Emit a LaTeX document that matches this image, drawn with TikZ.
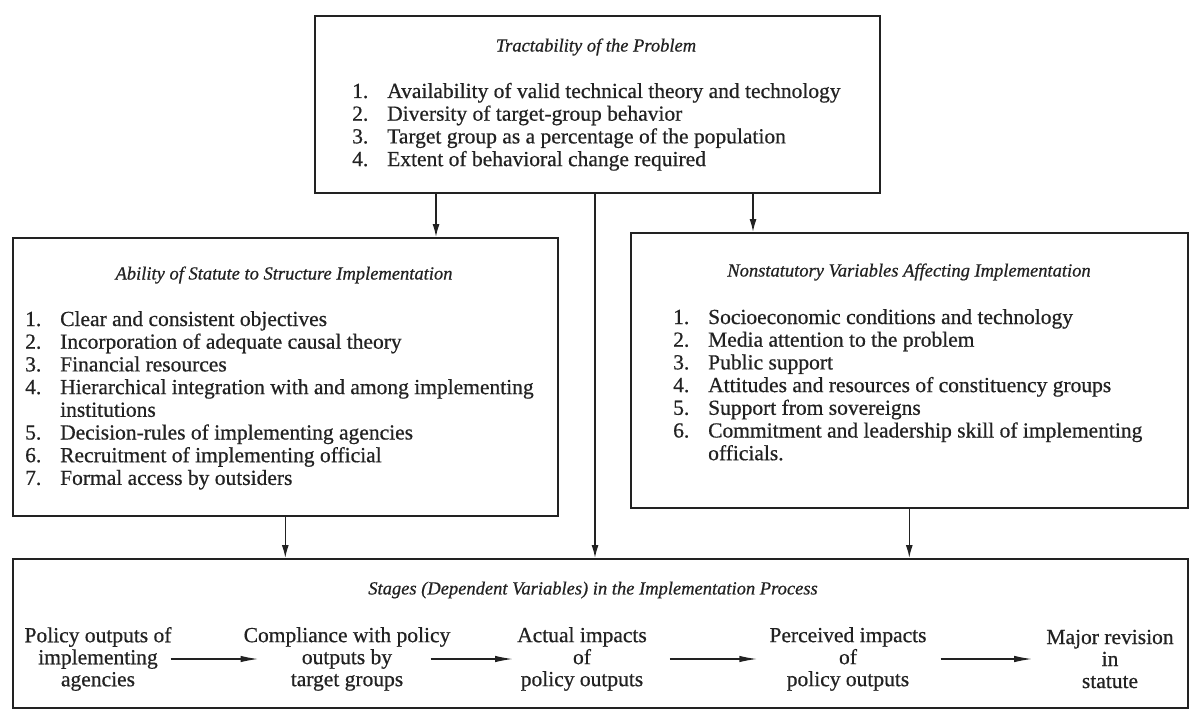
\documentclass[tikz,border=0pt]{standalone}
\usepackage{fontspec}
\setmainfont{Liberation Serif}[FakeBold=0.6]
\newfontfamily\heavyserif{Liberation Serif}[FakeBold=0.6]
\usetikzlibrary{arrows.meta}
\definecolor{ink}{HTML}{222222}
\begin{document}
\begin{tikzpicture}[x=1pt,y=-1pt,
  box/.style={draw=ink, line width=1.6pt, inner sep=0pt, anchor=north west},
  ttl/.style={font=\heavyserif\fontsize{18.5}{22}\selectfont\itshape, text=ink, inner sep=0pt, anchor=center},
  lst/.style={font=\heavyserif\fontsize{21.5}{22.7}\selectfont, text=ink, inner sep=0pt, anchor=base west},
  stg/.style={font=\heavyserif\fontsize{21.5}{22}\selectfont, text=ink, inner sep=0pt, align=center, anchor=center},
  arr/.style={draw=ink, line width=1.5pt, -{Latex[length=13pt,width=7pt]}},
  sarr/.style={draw=ink, line width=1.4pt, -{Latex[length=18pt,width=6.5pt]}}]
\useasboundingbox (0,0) rectangle (1189,709);
\fill[white] (0,0) rectangle (1189,709);
\newcommand{\nm}[1]{\makebox[35pt][l]{#1}}
% boxes
\node[box, minimum width=565pt, minimum height=177pt] (top) at (314,15) {};
\node[box, minimum width=545pt, minimum height=278pt] (lbox) at (12,237) {};
\node[box, minimum width=557pt, minimum height=275pt] (rbox) at (630,232) {};
\node[box, minimum width=1175pt, minimum height=149pt] (bot) at (12,558) {};
% top box text
\node[ttl] (ttop) at (596,47) {Tractability of the Problem};
\node[lst] (ltop) at (352,98) {\begin{tabular}[t]{@{}l@{}l@{}}
\nm{1.}&Availability of valid technical theory and technology\\
\nm{2.}&Diversity of target-group behavior\\
\nm{3.}&Target group as a percentage of the population\\
\nm{4.}&Extent of behavioral change required
\end{tabular}};
% left box text
\node[ttl] (tleft) at (284,275) {Ability of Statute to Structure Implementation};
\node[lst] (lleft) at (25,326) {\begin{tabular}[t]{@{}l@{}l@{}}
\nm{1.}&Clear and consistent objectives\\
\nm{2.}&Incorporation of adequate causal theory\\
\nm{3.}&Financial resources\\
\nm{4.}&Hierarchical integration with and among implementing\\
&institutions\\
\nm{5.}&Decision-rules of implementing agencies\\
\nm{6.}&Recruitment of implementing official\\
\nm{7.}&Formal access by outsiders
\end{tabular}};
% right box text
\node[ttl] (tright) at (909,272) {Nonstatutory Variables Affecting Implementation};
\node[lst] (lright) at (673,324) {\begin{tabular}[t]{@{}l@{}l@{}}
\nm{1.}&Socioeconomic conditions and technology\\
\nm{2.}&Media attention to the problem\\
\nm{3.}&Public support\\
\nm{4.}&Attitudes and resources of constituency groups\\
\nm{5.}&Support from sovereigns\\
\nm{6.}&Commitment and leadership skill of implementing\\
&officials.
\end{tabular}};
% bottom box text
\node[ttl] (tbot) at (593,590) {Stages (Dependent Variables) in the Implementation Process};
\node[stg] (s1) at (98,659) {Policy outputs of\\implementing\\agencies};
\node[stg] (s2) at (347,659) {Compliance with policy\\outputs by\\target groups};
\node[stg] (s3) at (582,659) {Actual impacts\\of\\policy outputs};
\node[stg] (s4) at (848,659) {Perceived impacts\\of\\policy outputs};
\node[stg] (s5) at (1110,659) {Major revision\\in\\statute};
% stage arrows
\draw[sarr] ([xshift=-1pt]s1.east) -- ([xshift=15pt]s2.west);
\draw[sarr] ([xshift=-20pt]s2.east) -- ([xshift=-4pt]s3.west);
\draw[sarr] ([xshift=23pt]s3.east) -- ([xshift=-12pt]s4.west);
\draw[sarr] ([xshift=14pt]s4.east) -- ([xshift=-14pt]s5.west);
% connectors between boxes
\coordinate (c1) at (436,0);
\coordinate (c2) at (595,0);
\coordinate (c3) at (753,0);
\draw[arr] (top.south -| c1) -- (lbox.north -| c1);
\draw[arr] (top.south -| c2) -- (bot.north -| c2);
\draw[arr] (top.south -| c3) -- (rbox.north -| c3);
\draw[arr] (lbox.south) -- (bot.north -| lbox.south);
\draw[arr] (rbox.south) -- (bot.north -| rbox.south);
\end{tikzpicture}
\end{document}
